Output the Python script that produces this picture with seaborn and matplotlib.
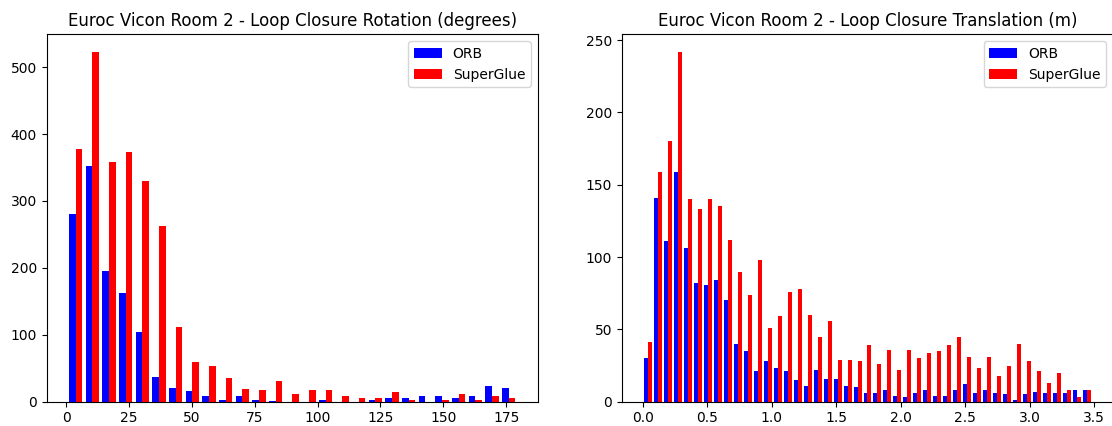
import numpy as np
import pandas as pd
import matplotlib
matplotlib.use("Agg")
import matplotlib.pyplot as plt
import seaborn as sns

# Loop-closure error histograms (counts per bin) for the Euroc Vicon Room 2 sequence
series_names = ["ORB", "SuperGlue"]
series_colors = ["blue", "red"]

# Rotation error (degrees): 27 bins
rot_edges = np.linspace(0.5, 179.3, 28)
rot_orb = [281, 352, 195, 162, 104, 37, 21, 16, 9, 3, 9, 3, 1, 0,
           0, 3, 0, 0, 3, 6, 6, 9, 8, 5, 8, 23, 20]
rot_superglue = [377, 523, 358, 373, 330, 262, 112, 60, 54, 36, 19, 18, 31, 12,
                 17, 17, 8, 5, 5, 14, 3, 0, 3, 11, 3, 9, 6]

# Translation error (m): 45 bins
trans_edges = np.linspace(0.004, 3.482, 46)
trans_orb = [30, 141, 111, 159, 106, 82, 81, 84, 70, 40, 35, 21, 28, 23, 21,
             15, 11, 22, 16, 16, 11, 10, 6, 6, 8, 4, 3, 6, 8, 4,
             4, 8, 12, 6, 8, 6, 5, 1, 5, 7, 6, 6, 6, 8, 8]
trans_superglue = [41, 159, 180, 242, 140, 133, 140, 135, 112, 90, 74, 98, 51, 59, 76,
                   78, 60, 45, 56, 29, 29, 28, 39, 26, 36, 22, 36, 30, 34, 35,
                   39, 45, 31, 23, 31, 18, 25, 40, 28, 21, 13, 20, 8, 3, 8]

titles = ["Euroc Vicon Room 2 - Loop Closure Rotation (degrees)",
          "Euroc Vicon Room 2 - Loop Closure Translation (m)"]


def binned_frame(edges, orb, superglue):
    centers = 0.5 * (edges[:-1] + edges[1:])
    return pd.DataFrame({
        "value": np.concatenate([centers, centers]),
        "count": np.concatenate([orb, superglue]).astype(float),
        "method": [series_names[0]] * len(orb) + [series_names[1]] * len(superglue),
    })


fig = plt.figure(figsize=(11.12, 4.26), dpi=100)
ax_rot = fig.add_axes([46.7 / 1112, 1 - 401.7 / 426, 491 / 1112, 367.5 / 426])
ax_trans = fig.add_axes([622 / 1112, 1 - 401.7 / 426, 491 / 1112, 367.5 / 426])

palette = dict(zip(series_names, series_colors))
for ax, edges, orb, sg, title in [
    (ax_rot, rot_edges, rot_orb, rot_superglue, titles[0]),
    (ax_trans, trans_edges, trans_orb, trans_superglue, titles[1]),
]:
    df = binned_frame(edges, orb, sg)
    sns.histplot(data=df, x="value", weights="count", hue="method",
                 hue_order=series_names, palette=palette, bins=list(edges),
                 multiple="dodge", shrink=0.8, alpha=1, linewidth=0, ax=ax)
    ax.set_title(title, fontsize=12)
    ax.set_xlabel("")
    ax.set_ylabel("")
    sns.move_legend(ax, "upper right", title=None)

ax_trans.set_xticks(np.arange(0, 3.51, 0.5))

fig.savefig("out.png", dpi=100)
